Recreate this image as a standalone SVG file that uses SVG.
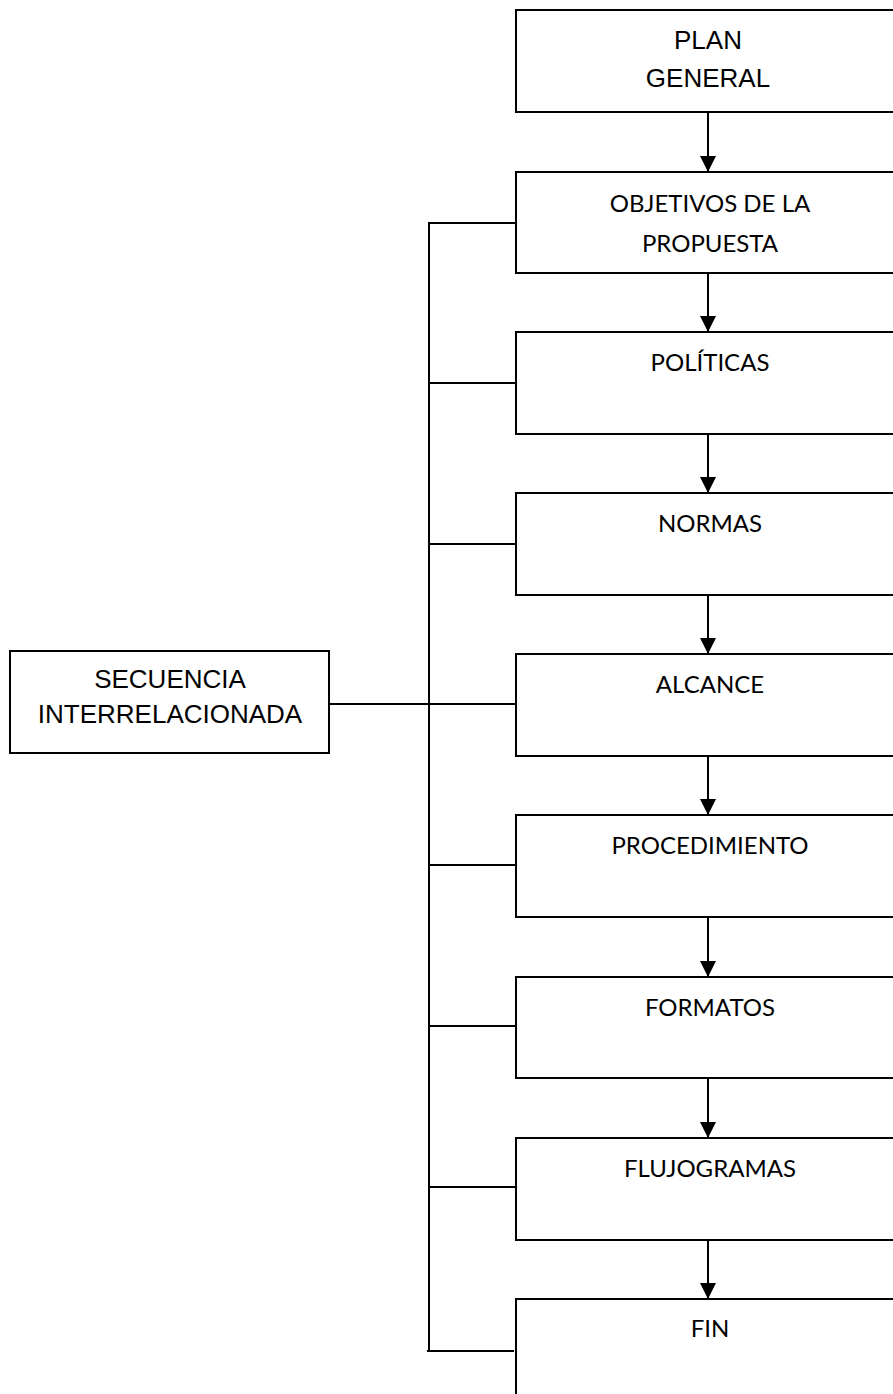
<svg xmlns="http://www.w3.org/2000/svg" width="893" height="1394" viewBox="0 0 893 1394">
  <style>
    .box { fill: #ffffff; stroke: #000000; stroke-width: 2; }
    .wire { fill: none; stroke: #000000; stroke-width: 2; }
    .arial { font-family: "Liberation Sans", Arial, sans-serif; font-size: 26px; fill: #000000; text-anchor: middle; }
    .cal { font-family: Lato, "Open Sans", sans-serif; font-size: 24px; fill: #000000; text-anchor: middle; }
  </style>
  <defs>
    <marker id="head" markerUnits="userSpaceOnUse" markerWidth="18" markerHeight="18" refX="16" refY="8" orient="auto">
      <path d="M0,0 L16,8 L0,16 Z" fill="#000000"/>
    </marker>
  </defs>

  <rect width="893" height="1394" fill="#ffffff"/>

  <!-- connectors -->
  <g id="connectors">
    <!-- main flow arrows -->
    <line class="wire" x1="708" y1="112" x2="708" y2="172" marker-end="url(#head)"/>
    <line class="wire" x1="708" y1="273" x2="708" y2="332" marker-end="url(#head)"/>
    <line class="wire" x1="708" y1="434" x2="708" y2="493" marker-end="url(#head)"/>
    <line class="wire" x1="708" y1="595" x2="708" y2="654" marker-end="url(#head)"/>
    <line class="wire" x1="708" y1="756" x2="708" y2="815" marker-end="url(#head)"/>
    <line class="wire" x1="708" y1="917" x2="708" y2="977" marker-end="url(#head)"/>
    <line class="wire" x1="708" y1="1078" x2="708" y2="1138" marker-end="url(#head)"/>
    <line class="wire" x1="708" y1="1240" x2="708" y2="1299" marker-end="url(#head)"/>
    <!-- vertical bus and branches -->
    <line class="wire" x1="429" y1="222" x2="429" y2="1352"/>
    <line class="wire" x1="428" y1="223" x2="516" y2="223"/>
    <line class="wire" x1="429" y1="383" x2="516" y2="383"/>
    <line class="wire" x1="429" y1="544" x2="516" y2="544"/>
    <line class="wire" x1="330" y1="704" x2="516" y2="704"/>
    <line class="wire" x1="429" y1="865" x2="516" y2="865"/>
    <line class="wire" x1="429" y1="1026" x2="516" y2="1026"/>
    <line class="wire" x1="429" y1="1187" x2="516" y2="1187"/>
    <line class="wire" x1="427" y1="1351" x2="514" y2="1351"/>
  </g>

  <g id="secuencia">
    <rect class="box" x="10" y="651" width="319" height="102"/>
    <text class="arial" x="170" y="688">SECUENCIA</text>
    <text class="arial" x="170" y="723">INTERRELACIONADA</text>
  </g>

  <g id="plan-general">
    <rect class="box" x="516" y="10" width="390" height="102"/>
    <text class="arial" x="708" y="49">PLAN</text>
    <text class="arial" x="708" y="87">GENERAL</text>
  </g>

  <g id="objetivos">
    <rect class="box" x="516" y="172" width="390" height="101"/>
    <text class="cal" x="710" y="212">OBJETIVOS DE LA</text>
    <text class="cal" x="710" y="252">PROPUESTA</text>
  </g>

  <g id="politicas">
    <rect class="box" x="516" y="332" width="390" height="102"/>
    <text class="cal" x="710" y="371">POLÍTICAS</text>
  </g>

  <g id="normas">
    <rect class="box" x="516" y="493" width="390" height="102"/>
    <text class="cal" x="710" y="532">NORMAS</text>
  </g>

  <g id="alcance">
    <rect class="box" x="516" y="654" width="390" height="102"/>
    <text class="cal" x="710" y="693">ALCANCE</text>
  </g>

  <g id="procedimiento">
    <rect class="box" x="516" y="815" width="390" height="102"/>
    <text class="cal" x="710" y="854">PROCEDIMIENTO</text>
  </g>

  <g id="formatos">
    <rect class="box" x="516" y="977" width="390" height="101"/>
    <text class="cal" x="710" y="1016">FORMATOS</text>
  </g>

  <g id="flujogramas">
    <rect class="box" x="516" y="1138" width="390" height="102"/>
    <text class="cal" x="710" y="1177">FLUJOGRAMAS</text>
  </g>

  <g id="fin">
    <rect class="box" x="516" y="1299" width="390" height="120"/>
    <text class="cal" x="710" y="1337">FIN</text>
  </g>
</svg>
